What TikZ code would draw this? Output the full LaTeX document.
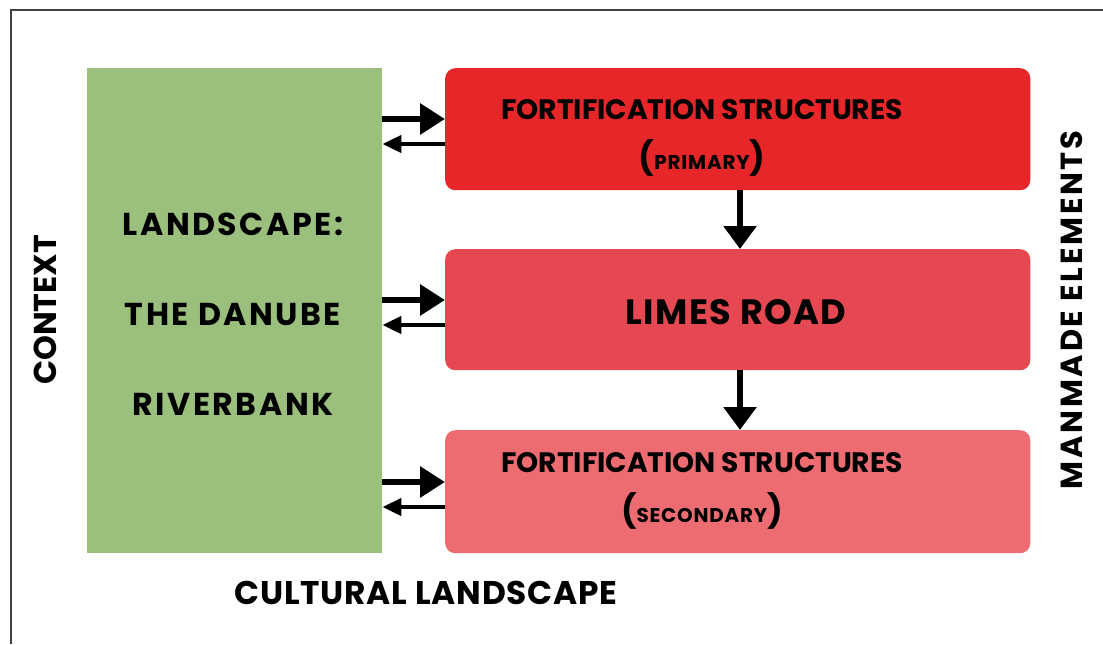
\documentclass[tikz,border=0pt]{standalone}
\usepackage{fontspec}
\setmainfont{Poppins}[BoldFont={* Bold}]
\usetikzlibrary{arrows.meta}
\definecolor{gbox}{RGB}{155,192,125}
\definecolor{rA}{RGB}{231,38,42}
\definecolor{rB}{RGB}{229,72,80}
\definecolor{rC}{RGB}{236,108,114}
\tikzset{
  box/.style={draw=none, rounded corners=10*0.03cm, anchor=north west, inner sep=0pt},
  lbl/.style={font=\bfseries\fontsize{24}{43}\selectfont, align=center, inner sep=0pt},
  side/.style={inner sep=0pt},
  bigar/.style={line width=7*0.85pt, -{Triangle[length=25*0.85pt, width=30*0.85pt]}},
  smallar/.style={line width=4.5*0.85pt, -{Triangle[length=19*0.85pt, width=17*0.85pt]}},
  downar/.style={line width=7*0.85pt, -{Triangle[length=23*0.85pt, width=32*0.85pt]}},
}
\newcommand{\sm}[1]{{\fontsize{28}{30}\selectfont(}{\fontsize{17}{20}\selectfont\addfontfeature{LetterSpace=4}#1}{\fontsize{28}{30}\selectfont)}}
\begin{document}
\begin{tikzpicture}[x=0.03cm, y=-0.03cm]
\useasboundingbox (0,0) rectangle (1103,644);
\fill[white] (0,0) rectangle (1103,644);
\draw[line width=1.2pt, black!75] (11,644) -- (11,10) -- (1103,10);
% green box
\node[box, fill=gbox, rounded corners=0pt, minimum width=295*0.03cm, minimum height=485*0.03cm] (land) at (87,68) {};
\node[font=\bfseries\fontsize{27}{77}\selectfont\addfontfeature{LetterSpace=8}, align=center, inner sep=0pt] (landtxt) at (233,314) {LANDSCAPE:\\THE DANUBE\\RIVERBANK};
% red boxes
\node[box, fill=rA, minimum width=585*0.03cm, minimum height=122*0.03cm] (f1) at (445,68) {};
\node[box, fill=rB, minimum width=585*0.03cm, minimum height=121*0.03cm] (lr) at (445,249) {};
\node[box, fill=rC, minimum width=585*0.03cm, minimum height=123*0.03cm] (f2) at (445,430) {};
\node[lbl] (f1t) at (702,138) {FORTIFICATION STRUCTURES\\\sm{PRIMARY}};
\node[lbl, font=\bfseries\fontsize{30}{41}\selectfont\addfontfeature{LetterSpace=4}] (lrt) at (736,312) {LIMES ROAD};
\node[lbl] (f2t) at (702,491) {FORTIFICATION STRUCTURES\\\sm{SECONDARY}};
% side labels
\node[side, rotate=90, font=\bfseries\fontsize{27}{32}\selectfont] (ctx) at (45,310) {CONTEXT};
\node[side, rotate=90, font=\bfseries\fontsize{26}{30}\selectfont\addfontfeature{LetterSpace=9}] (man) at (1072,310) {MANMADE ELEMENTS};
\node[side, font=\bfseries\fontsize{28}{32}\selectfont\addfontfeature{LetterSpace=2.5}] (cult) at (426,593) {CULTURAL LANDSCAPE};
% horizontal arrows
\foreach \b/\ya/\yb in {f1/119/144, lr/300/325, f2/482/507}{
  \draw[bigar] (land.east |- 0,\ya) -- (\b.west |- 0,\ya);
  \draw[smallar] (\b.west |- 0,\yb) -- (land.east |- 0,\yb);
}
% vertical arrows
\draw[downar] (f1.south -| 740,0) -- (lr.north -| 740,0);
\draw[downar] (lr.south -| 740,0) -- (f2.north -| 740,0);
\end{tikzpicture}
\end{document}
